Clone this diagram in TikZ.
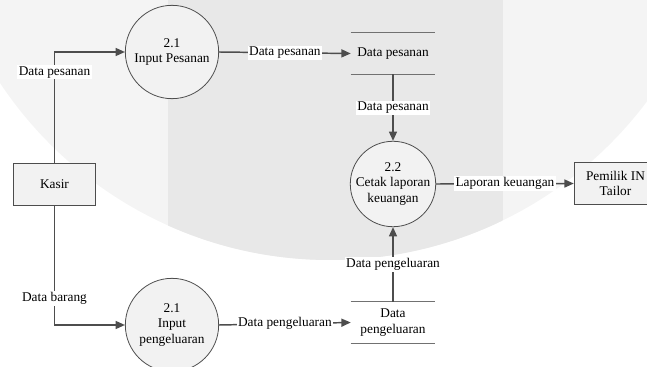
\documentclass[tikz,border=0pt]{standalone}
\usepackage{fontspec}
\setmainfont{Liberation Serif}
\usetikzlibrary{arrows.meta}

\definecolor{linegray}{HTML}{4D4D4D}
\definecolor{nodefill}{HTML}{F2F2F2}
\definecolor{wmlight}{HTML}{F4F4F4}
\definecolor{wmdark}{HTML}{E8E8E8}

\tikzset{
  proc/.style={circle,draw=linegray,line width=0.6pt,fill=nodefill,align=center,minimum size=70pt,inner sep=0pt},
  entity/.style={rectangle,draw=linegray,line width=0.6pt,fill=nodefill,align=center,minimum width=62pt,minimum height=31pt},
  store/.style={align=center,minimum width=63pt,minimum height=31pt,inner sep=0pt},
  storeline/.style={draw=linegray!80,line width=0.7pt},
  flow/.style={draw=linegray,line width=1.1pt,-{Triangle[length=7pt,width=6pt]}},
  lbl/.style={fill=white,inner sep=1pt}
}

\begin{document}
\begin{tikzpicture}[x=0.75pt,y=-0.75pt,font=\fontsize{10}{11.5}\selectfont]

\useasboundingbox (0,0) rectangle (647,367);

% watermark in the background
\begin{scope}
\clip (0,0) rectangle (647,367);
\fill[wmlight] (330,-136) circle[radius=297pt];
\clip (330,-136) circle[radius=297pt];
\fill[wmdark] (168,-10) rectangle (503,380);
\end{scope}

\node[entity] (kasir) at (54.5,184.5) {Kasir};
\node[proc] (inpesan) at (172,52) {2.1\\Input Pesanan};
\node[store] (dpesan) at (393,53.5) {Data pesanan};
\node[proc,minimum size=62pt] (cetak) at (393,184) {2.2\\Cetak laporan\\keuangan};
\node[entity] (pemilik) at (615.5,183.5) {Pemilik IN\\Tailor};
\node[proc] (inkeluar) at (172,325) {2.1\\Input\\pengeluaran};
\node[store] (dkeluar) at (393,322.5) {Data\\pengeluaran};

% data stores
\draw[storeline] (dpesan.north west) -- (dpesan.north east) (dpesan.south west) -- (dpesan.south east);
\draw[storeline] (dkeluar.north west) -- (dkeluar.north east) (dkeluar.south west) -- (dkeluar.south east);

% flows
\draw[flow] (kasir.north) |- node[lbl,pos=0.41]{Data pesanan} (inpesan.west);
\draw[flow] (inpesan.east) -- node[lbl]{Data pesanan} (dpesan.west);
\draw[flow] (dpesan.south) -- node[lbl]{Data pesanan} (cetak.north);
\draw[flow] (cetak.east) -- node[lbl]{Laporan keuangan} (pemilik.west);
\draw[flow] (dkeluar.north) -- node[lbl]{Data pengeluaran} (cetak.south);
\draw[flow] (kasir.south) |- node[lbl,pos=0.39]{Data barang} (inkeluar.west);
\draw[flow] (inkeluar.east) -- node[lbl]{Data pengeluaran} (dkeluar.west);

\end{tikzpicture}
\end{document}
